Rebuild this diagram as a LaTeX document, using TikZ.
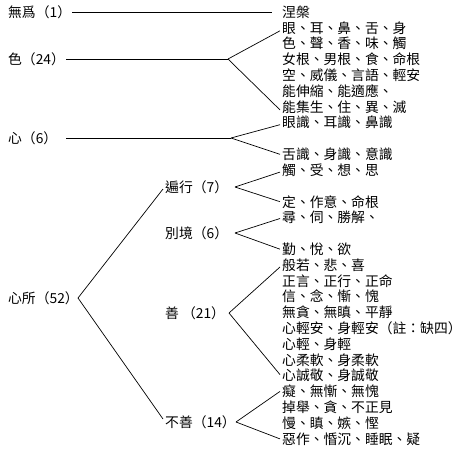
\documentclass[tikz,border=0pt]{standalone}
\usepackage{fontspec}
\setmainfont{Noto Sans CJK TC}
\begin{document}
\begin{tikzpicture}[x=1pt,y=-1pt,
  txt/.style={anchor=west,inner sep=0pt,font=\fontsize{13.8}{15}\selectfont},
  conn/.style={draw=black,line width=0.7pt}]
\path[use as bounding box,fill=white] (0,0) rectangle (466,453);
% left labels
\node[txt] (wuwei) at (8,12) {無爲（1）};
\node[txt] (se) at (8,59) {色（24）};
\node[txt] (xin) at (8,138) {心（6）};
\node[txt] (xinsuo) at (8,298) {心所（52）};
\node[txt] (bianxing) at (165,187) {遍行（7）};
\node[txt] (biejing) at (165,233) {別境（6）};
\node[txt] (shan) at (165,313) {善 （21）};
\node[txt] (bushan) at (165,422) {不善（14）};
% right column
\node[txt] (r0) at (282,12.0) {涅槃};
\node[txt] (r1) at (282,27.8) {眼、耳、鼻、舌、身};
\node[txt] (r2) at (282,43.6) {色、聲、香、味、觸};
\node[txt] (r3) at (282,59.4) {女根、男根、食、命根};
\node[txt] (r4) at (282,75.2) {空、威儀、言語、輕安};
\node[txt] (r5) at (282,91.1) {能伸縮、能適應、};
\node[txt] (r6) at (282,106.9) {能集生、住、異、滅};
\node[txt] (r7) at (282,122.7) {眼識、耳識、鼻識};
\node[txt] (r9) at (282,154.3) {舌識、身識、意識};
\node[txt] (r10) at (282,170.1) {觸、受、想、思};
\node[txt] (r12) at (282,201.7) {定、作意、命根};
\node[txt] (r13) at (282,217.5) {尋、伺、勝解、};
\node[txt] (r15) at (282,249.2) {勤、悅、欲};
\node[txt] (r16) at (282,265.0) {般若、悲、喜};
\node[txt] (r17) at (282,280.8) {正言、正行、正命};
\node[txt] (r18) at (282,296.6) {信、念、慚、愧};
\node[txt] (r19) at (282,312.4) {無貪、無瞋、平靜};
\node[txt] (r20) at (282,328.2) {心輕安、身輕安（註：缺四）};
\node[txt] (r21) at (282,344.0) {心輕、身輕};
\node[txt] (r22) at (282,359.8) {心柔軟、身柔軟};
\node[txt] (r23) at (282,375.6) {心誠敬、身誠敬};
\node[txt] (r24) at (282,391.4) {癡、無慚、無愧};
\node[txt] (r25) at (282,407.3) {掉舉、貪、不正見};
\node[txt] (r26) at (282,423.1) {慢、瞋、嫉、慳};
\node[txt] (r27) at (282,438.9) {惡作、惛沉、睡眠、疑};
% branch points
\coordinate (wuweiS) at (72,12);
\coordinate (seS) at (66,59);
\coordinate (seB) at (228,59);
\coordinate (xinS) at (66,138);
\coordinate (xinB) at (231,138);
\coordinate (xsB) at (78,298);
\coordinate (bxB) at (235,187);
\coordinate (bjB) at (235,233);
\coordinate (shB) at (229,313);
\coordinate (bsB) at (236,422);
% connectors
\draw[conn] (wuweiS) -- ([xshift=-10]r0.west);
\draw[conn] (seS) -- (seB);
\draw[conn] (seB) -- ([xshift=-2,yshift=-3]r1.west);
\draw[conn] (seB) -- ([xshift=-2,yshift=-3]r6.west);
\draw[conn] (xinS) -- (xinB);
\draw[conn] (xinB) -- ([xshift=-2,yshift=-2]r7.west);
\draw[conn] (xinB) -- ([xshift=-2]r9.west);
\draw[conn] (xsB) -- ([xshift=-2,yshift=-2]bianxing.west);
\draw[conn] (xsB) -- ([xshift=-2,yshift=3]bushan.west);
\draw[conn] (bxB) -- ([xshift=-2,yshift=-2]r10.west);
\draw[conn] (bxB) -- ([xshift=-2]r12.west);
\draw[conn] (bjB) -- ([xshift=-2,yshift=-1]r13.west);
\draw[conn] (bjB) -- ([xshift=-2]r15.west);
\draw[conn] (shB) -- ([xshift=-2,yshift=-2]r16.west);
\draw[conn] (shB) -- ([xshift=-2,yshift=1]r23.west);
\draw[conn] (bsB) -- ([xshift=-2]r24.west);
\draw[conn] (bsB) -- ([xshift=-2]r27.west);
\end{tikzpicture}
\end{document}
